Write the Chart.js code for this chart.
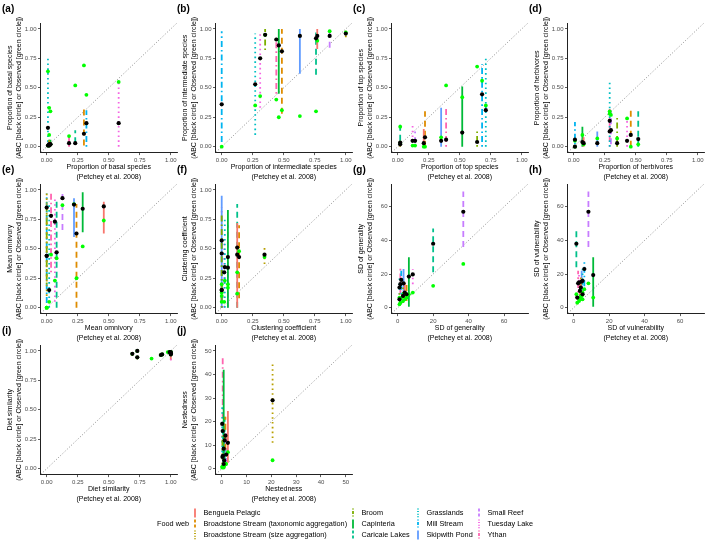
<!DOCTYPE html>
<html>
<head>
<meta charset="utf-8">
<script src="https://cdn.jsdelivr.net/npm/chart.js@4.4.1/dist/chart.umd.min.js"></script>
<style>
html, body { margin: 0; padding: 0; background: #fff; }
body { width: 709px; height: 540px; position: relative; overflow: hidden; font-family: "Liberation Sans", Arial, sans-serif; }
.panel { position: absolute; width: 181px; height: 182px; }
.lg { position: absolute; font-size: 7.3px; color: #000; white-space: nowrap; line-height: 10px; }
.lg svg { position: absolute; }
</style>
</head>
<body>
<div id="panels"></div>
<div id="legend"></div>
<script>
const webs = ['Benguela Pelagic', 'Broadstone Stream (taxonomic aggregation)', 'Broadstone Stream (size aggregation)',
    'Broom', 'Capinteria', 'Caricaie Lakes', 'Grasslands', 'Mill Stream', 'Skipwith Pond',
    'Small Reef', 'Tuesday Lake', 'Ythan'];
const webColors = ['#F8766D', '#DE8C00', '#B79F00', '#7CAE00', '#00BA38', '#00C08B',
    '#00BFC4', '#00B4F0', '#619CFF', '#C77CFF', '#F564E3', '#FF64B0'];
const webLines = ['solid', 'dashed', 'dotted', 'dotdash', 'solid', 'dashed',
    'dotted', 'dotdash', 'solid', 'dashed', 'dotted', 'dotdash'];

// one row per food web: [Petchey 2008, ABC lower, ABC upper, ABC, observed]
const basal = [[0.03, 0, 0.04, 0.02, 0.02], [0.30, 0.01, 0.32, 0.11, 0.69], [0.02, 0, 0.05, 0.01, 0.01],
    [0.02, 0, 0.06, 0.02, 0.33], [0.03, 0, 0.06, 0.02, 0.30], [0.23, 0.03, 0.14, 0.03, 0.52],
    [0.01, 0, 0.75, 0.16, 0.64], [0.32, 0, 0.31, 0.20, 0.44], [0.02, 0, 0.06, 0.02, 0.10],
    [0.01, 0, 0.03, 0.01, 0.01], [0.58, 0, 0.55, 0.20, 0.55], [0.18, 0, 0.10, 0.03, 0.09]];
const intermediate = [[0.77, 0.83, 1.0, 0.94, 0.90], [0.485, 0.28, 1.0, 0.81, 0.31], [1.0, 0.93, 0.99, 0.96, 0.97],
    [0.35, 0.82, 1.0, 0.95, 0.95], [0.46, 0.45, 1.0, 0.86, 0.25], [0.76, 0.61, 0.97, 0.92, 0.30],
    [0.27, 0.10, 0.96, 0.53, 0.35], [0.0, 0.0, 0.98, 0.36, 0.0], [0.63, 0.62, 1.0, 0.94, 0.26],
    [0.87, 0.84, 0.97, 0.94, 0.98], [0.31, 0.33, 0.96, 0.75, 0.43], [0.44, 0.45, 0.95, 0.91, 0.40]];
const top_ = [[0.21, 0, 0.15, 0.03, 0.0], [0.22, 0, 0.30, 0.08, 0.0], [0.02, 0, 0.05, 0.02, 0.03],
    [0.64, 0, 0.13, 0.04, 0.68], [0.52, 0, 0.51, 0.12, 0.42], [0.02, 0.05, 0.22, 0.035, 0.17],
    [0.71, 0, 0.77, 0.31, 0.35], [0.68, 0, 0.70, 0.445, 0.56], [0.35, 0, 0.33, 0.05, 0.08],
    [0.14, 0.03, 0.13, 0.05, 0.01], [0.12, 0, 0.19, 0.05, 0.01], [0.39, 0, 0.34, 0.06, 0.52]];
const herbivores = [[0.08, 0, 0.08, 0.03, 0.02], [0.46, 0, 0.32, 0.10, 0.0], [0.01, 0, 0.03, 0.0, 0.0],
    [0.35, 0, 0.26, 0.03, 0.07], [0.07, 0, 0.17, 0.04, 0.10], [0.52, 0, 0.30, 0.065, 0.02],
    [0.29, 0, 0.56, 0.22, 0.28], [0.01, 0.02, 0.21, 0.06, 0.05], [0.19, 0, 0.13, 0.03, 0.07],
    [0.30, 0.02, 0.30, 0.14, 0.27], [0.43, 0, 0.25, 0.05, 0.24], [0.29, 0, 0.33, 0.13, 0.30]];
const omnivory = [[0.46, 0.63, 0.90, 0.86, 0.74], [0.24, 0.0, 0.88, 0.63, 0.25], [0.0, 0.10, 0.97, 0.85, 0.0],
    [0.0, 0.20, 0.90, 0.44, 0.0], [0.29, 0.64, 0.98, 0.84, 0.52], [0.08, 0.0, 0.93, 0.47, 0.42],
    [0.02, 0.0, 0.90, 0.15, 0.05], [0.0, 0.0, 0.97, 0.44, 0.0], [0.22, 0.60, 0.93, 0.875, 0.88],
    [0.127, 0.66, 0.98, 0.93, 0.87], [0.066, 0.05, 0.93, 0.73, 0.23], [0.035, 0.30, 0.97, 0.78, 0.45]];
const clustering = [[0.125, 0, 0.72, 0.45, 0.30], [0.14, 0.08, 0.70, 0.43, 0.48], [0.345, 0.37, 0.53, 0.45, 0.43],
    [0.0, 0, 0.80, 0.15, 0.05], [0.05, 0, 0.83, 0.43, 0.20], [0.125, 0, 0.88, 0.51, 0.12],
    [0.025, 0, 0.75, 0.345, 0.23], [0.0, 0, 0.60, 0.15, 0.13], [0.0, 0, 0.95, 0.57, 0.20],
    [0.05, 0, 0.70, 0.34, 0.17], [0.02, 0, 0.60, 0.30, 0.05], [0.0, 0, 0.85, 0.46, 0.10]];
const generality = [[4, 5, 15, 9, 5], [5, 4, 14, 8, 6], [1, 2, 10, 5, 2],
    [3, 3, 12, 7, 4], [6.3, 0.5, 30, 18.5, 8], [20, 21, 47, 38, 13],
    [1, 5, 18, 12, 6], [2, 8, 22, 16.5, 6], [3.3, 8, 23, 14.5, 8],
    [37, 36, 69, 57, 26], [8.5, 14, 23, 19.8, 9], [1.5, 6, 25, 14, 3]];
const vulnerability = [[3.5, 6, 14, 10, 5], [4, 5, 18, 12, 7], [2, 2, 10, 6, 3],
    [5, 4, 12, 8, 5], [11, 0.5, 30, 19.4, 6], [1.5, 24, 46, 38, 8],
    [5, 8, 25, 16, 9], [6, 10, 27, 23, 11], [4.5, 5, 22, 15.5, 7],
    [8.3, 36, 69, 57, 14.5], [3, 10, 20, 15, 4], [2.5, 9, 22, 14.5, 6]];
// null = no ABC estimate shown for that web
const dietSimilarity = [[1.0, 0.93, 1.0, 0.98, 0.97], [0.69, 0.96, 0.99, 0.975, 0.975], [0.73, 0.99, 1.0, 1.0, 1.0],
    [0.73, 0.93, 0.96, 0.945, 0.945], [0.92, 0.95, 0.98, 0.965, 0.965], [0.93, 0.96, 0.98, 0.97, 0.97],
    [0.845, null, null, null, 0.935], [0.975, null, null, null, 0.99], [0.99, 0.98, 1.0, 0.99, 0.99],
    [1.0, 0.95, 1.0, 0.99, 0.99], [1.0, 0.92, 1.0, 0.97, 0.98], [1.0, 0.92, 1.0, 0.98, 0.99]];
const nestedness = [[2.5, 2.5, 24.5, 11, 7], [1.5, 8, 22, 14, 2], [20.5, 11, 45, 29, 3.6],
    [0.3, 2, 14, 5, 1], [0.8, 1, 42, 8.5, 1.5], [1.2, 3, 22, 12, 2.5],
    [0.2, 5, 27, 19, 0.5], [0.5, 1, 18, 5.5, 0.8], [1.0, 1, 19, 3.5, 1.2],
    [1.8, 2, 15, 6, 2], [0.8, 1, 12, 2, 0.5], [0.4, 2, 47, 16, 1]];

const propTicks = [0, 0.25, 0.5, 0.75, 1];
const sdTicks = [0, 20, 40, 60];
const nestTicks = [0, 10, 20, 30, 40, 50];

const panels = [
    { tag: '(a)', label: 'Proportion of basal species', rows: basal, lim: [0, 1], ticks: propTicks, digits: 2 },
    { tag: '(b)', label: 'Proportion of intermediate species', rows: intermediate, lim: [0, 1], ticks: propTicks, digits: 2 },
    { tag: '(c)', label: 'Proportion of top species', rows: top_, lim: [0, 1], ticks: propTicks, digits: 2 },
    { tag: '(d)', label: 'Proportion of herbivores', rows: herbivores, lim: [0, 1], ticks: propTicks, digits: 2 },
    { tag: '(e)', label: 'Mean omnivory', rows: omnivory, lim: [0, 1], ticks: propTicks, digits: 2 },
    { tag: '(f)', label: 'Clustering coefficient', rows: clustering, lim: [0, 1], ticks: propTicks, digits: 2 },
    { tag: '(g)', label: 'SD of generality', rows: generality, lim: [0, 70], ticks: sdTicks, digits: 0 },
    { tag: '(h)', label: 'SD of vulnerability', rows: vulnerability, lim: [0, 70], ticks: sdTicks, digits: 0 },
    { tag: '(i)', label: 'Diet similarity', rows: dietSimilarity, lim: [0, 1], ticks: propTicks, digits: 2 },
    { tag: '(j)', label: 'Nestedness', rows: nestedness, lim: [0, 50], ticks: nestTicks, digits: 0 },
];

const colX = [0, 175, 351, 527];
const rowY = [0, 161, 322];
const FONT = '"Liberation Sans", Arial, sans-serif';

const dashes = { solid: [], dashed: [6, 4], dotted: [1.6, 3.2], dotdash: [1.6, 3, 6, 3] };

// tag + two-line y title drawn by hand so the long line is not squeezed
const panelText = {
    id: 'panelText',
    afterDraw(chart, args, opts) {
        const { ctx, chartArea } = chart;
        ctx.save();
        ctx.fillStyle = '#000';
        ctx.textBaseline = 'middle';
        ctx.font = 'bold 10px ' + FONT;
        ctx.fillText(opts.tag, 2, 9);
        ctx.font = '7px ' + FONT;
        ctx.textAlign = 'center';
        const cy = (chartArea.top + chartArea.bottom) / 2;
        opts.yTitle.forEach((line, i) => {
            ctx.save();
            ctx.translate(10 + i * 9.5, cy);
            ctx.rotate(-Math.PI / 2);
            ctx.fillText(line, 0, 0);
            ctx.restore();
        });
        ctx.restore();
    }
};

const makeScale = (p, axis) => {
    const span = p.lim[1] - p.lim[0];
    return {
        type: 'linear',
        min: p.lim[0] - 0.05 * span,
        max: p.lim[1] + 0.05 * span,
        afterBuildTicks: s => { s.ticks = p.ticks.map(v => ({ value: v })); },
        afterFit: s => { if (axis === 'x') s.height = 29.4; else s.width = 40.5; },
        grid: { drawOnChartArea: false, drawTicks: true, tickLength: 2.5, color: '#333', lineWidth: 0.8 },
        border: { display: true, color: '#222', width: 1 },
        ticks: {
            autoSkip: false, maxRotation: 0, padding: 1.5, color: '#4d4d4d',
            font: { size: 6, family: FONT },
            callback: v => v.toFixed(p.digits)
        },
        title: {
            display: axis === 'x',
            text: [p.label, '(Petchey et al. 2008)'],
            color: '#000',
            font: { size: 7, family: FONT, lineHeight: 1.4 },
            padding: { top: 0, bottom: 0 }
        }
    };
};

const holder = document.getElementById('panels');
panels.forEach((p, i) => {
    const div = document.createElement('div');
    div.className = 'panel';
    div.style.left = colX[i % 4] + 'px';
    div.style.top = rowY[Math.floor(i / 4)] + 'px';
    const cv = document.createElement('canvas');
    div.appendChild(cv);
    holder.appendChild(div);

    const span = p.lim[1] - p.lim[0];
    const lo = p.lim[0] - 0.1 * span, hi = p.lim[1] + 0.1 * span;

    const datasets = [{
        data: [{ x: lo, y: lo }, { x: hi, y: hi }],
        showLine: true, borderColor: '#808080', borderWidth: 0.9, borderDash: [1, 2],
        pointRadius: 0, order: 10
    }];
    p.rows.forEach((r, w) => {
        datasets.push({
            label: webs[w],
            data: [{ x: r[0], y: r[1] }, { x: r[0], y: r[2] }],
            showLine: true, borderColor: webColors[w], borderWidth: 1.8,
            borderDash: dashes[webLines[w]], pointRadius: 0, order: 5
        });
    });
    datasets.push({
        label: 'Observed',
        data: p.rows.map(r => ({ x: r[0], y: r[4] })),
        backgroundColor: '#00FF00', borderWidth: 0, pointRadius: 1.9, order: 2
    });
    datasets.push({
        label: 'ABC',
        data: p.rows.map(r => ({ x: r[0], y: r[3] })),
        backgroundColor: '#000', borderWidth: 0, pointRadius: 2.1, order: 1
    });

    new Chart(cv, {
        type: 'scatter',
        data: { datasets: datasets },
        options: {
            responsive: true,
            maintainAspectRatio: false,
            animation: false,
            layout: { padding: { top: 23, right: 2, left: 0, bottom: 0 } },
            scales: { x: makeScale(p, 'x'), y: makeScale(p, 'y') },
            plugins: {
                legend: { display: false },
                tooltip: { enabled: false },
                panelText: { tag: p.tag, yTitle: [p.label, '(ABC [black circle] or Observed [green circle])'] }
            }
        },
        plugins: [panelText]
    });
});

// legend
const legend = document.getElementById('legend');
const addText = (txt, x, y) => {
    const d = document.createElement('div');
    d.className = 'lg';
    d.textContent = txt;
    d.style.left = x + 'px';
    d.style.top = (y - 5) + 'px';
    legend.appendChild(d);
};
addText('Food web', 157, 524);
const keyX = [195, 353, 418, 479];
const rowYs = [513, 524, 535];
const svgDash = { solid: '', dashed: '3,2', dotted: '1,1.6', dotdash: '1,1.5,3,1.5' };
webs.forEach((w, i) => {
    const col = i < 3 ? 0 : Math.floor((i - 3) / 3) + 1;
    const row = i < 3 ? i : (i - 3) % 3;
    const x = keyX[col], y = rowYs[row];
    const svg = document.createElementNS('http://www.w3.org/2000/svg', 'svg');
    svg.setAttribute('width', 4);
    svg.setAttribute('height', 10);
    svg.style.position = 'absolute';
    svg.style.left = (x - 2) + 'px';
    svg.style.top = (y - 5) + 'px';
    const ln = document.createElementNS('http://www.w3.org/2000/svg', 'line');
    ln.setAttribute('x1', 2); ln.setAttribute('x2', 2);
    ln.setAttribute('y1', 0.5); ln.setAttribute('y2', 9.5);
    ln.setAttribute('stroke', webColors[i]);
    ln.setAttribute('stroke-width', 1.8);
    if (svgDash[webLines[i]]) ln.setAttribute('stroke-dasharray', svgDash[webLines[i]]);
    svg.appendChild(ln);
    legend.appendChild(svg);
    addText(w, x + 8.5, y);
});
</script>
</body>
</html>
